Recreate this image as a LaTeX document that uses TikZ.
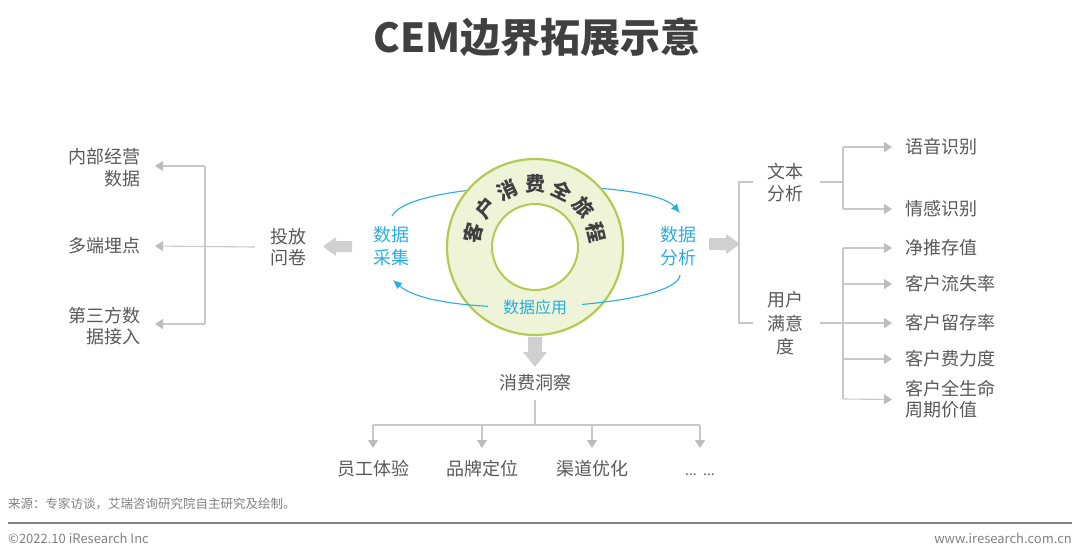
\documentclass[tikz,border=0pt]{standalone}
\usepackage{fontspec}
\setmainfont{Noto Sans CJK SC}
\usetikzlibrary{arrows.meta}
\definecolor{txt}{HTML}{595959}
\definecolor{titlec}{HTML}{404040}
\definecolor{lgray}{HTML}{C8C8C8}
\definecolor{agray}{HTML}{BDBDBD}
\definecolor{blockgray}{HTML}{D0D0D0}
\definecolor{ringfill}{HTML}{EFF3D8}
\definecolor{ringline}{HTML}{B0CB50}
\definecolor{cyanc}{HTML}{2AAEE0}
\definecolor{ftgray}{HTML}{808080}
\begin{document}
\begin{tikzpicture}[x=1pt,y=-1pt,
  lbl/.style={font=\fontsize{18}{21.5}\selectfont, text=txt, inner sep=0pt, align=center},
  rlbl/.style={lbl, anchor=west, align=left},
  cyl/.style={font=\fontsize{18}{23}\selectfont, text=cyanc, inner sep=0pt, align=center},
  glink/.style={draw=lgray, line width=1.1pt},
  garrow/.style={glink, -{Triangle[length=8pt,width=10pt,color=agray]}},
  carrow/.style={draw=cyanc, line width=1.1pt, -{Latex[length=9pt,width=8pt]}},
  block/.style={fill=blockgray, draw=none},
  ft/.style={text=ftgray, inner sep=0pt}
]
\useasboundingbox (0,0) rectangle (1080,558);

% title
\node[font=\fontsize{40}{48}\selectfont\bfseries, text=titlec, inner sep=0pt] (title) at (537,37) {CEM边界拓展示意};

% top cyan arc (behind ring)
\coordinate (ct1) at (392,216);
\coordinate (ct2) at (680,213);
\draw[carrow] (ct1) .. controls (412,178) and (650,178) .. (ct2);

% ring
\node[circle, minimum size=176pt, fill=ringfill, draw=ringline, line width=2.2pt, inner sep=0pt] (ring) at (535,247) {};
\node[circle, minimum size=86pt, fill=white, draw=ringline, line width=2pt, inner sep=0pt] (hole) at (535,247) {};

% ring text
\foreach \ch/\a [count=\i] in {客/167,户/141.3,消/115.7,费/90,全/64.3,旅/38.7,程/13}{
  \node[rotate=\a-90, font=\fontsize{20}{20}\selectfont\bfseries, text=titlec, inner sep=0pt] (rt\i) at ({535+63*cos(\a)},{247-63*sin(\a)}) {\ch};
}

% bottom cyan arc (over ring)
\coordinate (cb1) at (680,275);
\coordinate (cb2) at (393,280);
\draw[carrow] (cb1) .. controls (678,308) and (440,322) .. (cb2);

% cyan labels
\node[font=\fontsize{16}{18}\selectfont, text=cyanc, fill=ringfill, inner xsep=15pt, inner ysep=3pt] (yy) at (535,307) {数据应用};
\node[cyl] (dc) at (391,246.5) {数据\\采集};
\node[cyl] (da) at (678,246.5) {数据\\分析};

% block arrows
\fill[block] (323,246.5) -- (336,237) -- (336,241) -- (352,241) -- (352,252) -- (336,252) -- (336,256) -- cycle;
\fill[block] (740,244) -- (726,234) -- (726,238) -- (709,238) -- (709,250) -- (726,250) -- (726,254) -- cycle;
\fill[block] (535,367) -- (523,352) -- (528,352) -- (528,337) -- (542,337) -- (542,352) -- (547,352) -- cycle;

% left tree
\node[lbl] (tf) at (288,247) {投放\\问卷};
\node[lbl, anchor=east, align=right] (l1) at (141,167.5) {内部经营\\数据};
\node[lbl, anchor=east] (l2) at (141,246) {多端埋点};
\node[lbl, anchor=east, align=right] (l3) at (141,326) {第三方数\\据接入};
\coordinate (jlt) at (205,166);
\coordinate (jlb) at (205,324);
\coordinate (al1) at (155,166);
\coordinate (al2) at (155,246);
\coordinate (al3) at (155,324);
\draw[glink] (jlt) -- (jlb);
\draw[garrow] ([xshift=-15pt]tf.west) -- (al2);
\draw[garrow] (jlt) -- (al1);
\draw[garrow] (jlb) -- (al3);

% right tree
\node[lbl] (wb) at (785,182.5) {文本\\分析};
\node[lbl, font=\fontsize{18}{23.5}\selectfont] (my) at (785,323.5) {用户\\满意\\度};
\coordinate (b1) at (753,182);
\coordinate (b2) at (739,182);
\coordinate (b3) at (739,323);
\coordinate (b4) at (753,323);
\draw[glink] (b1) -- (b2) -- (b3) -- (b4);

\coordinate (jw) at (843,182);
\coordinate (jwt) at (843,147);
\coordinate (jwb) at (843,209);
\draw[glink] (820,182) -- (jw);
\draw[glink] (jwt) -- (jwb);
\node[rlbl] (r1) at (905,147) {语音识别};
\node[rlbl] (r2) at (905,209) {情感识别};
\draw[garrow] (jwt) -- ([xshift=-13pt]r1.west);
\draw[garrow] (jwb) -- ([xshift=-13pt]r2.west);

\coordinate (jm) at (843,323);
\coordinate (jmt) at (843,248);
\coordinate (jmb) at (843,399);
\draw[glink] (820,323) -- (jm);
\draw[glink] (jmt) -- (jmb);
\node[rlbl] (r3) at (905,248) {净推存值};
\node[rlbl] (r4) at (905,284) {客户流失率};
\node[rlbl] (r5) at (905,323) {客户留存率};
\node[rlbl] (r6) at (905,359) {客户费力度};
\node[rlbl, font=\fontsize{18}{21}\selectfont] (r7) at (905,399.5) {客户全生命\\周期价值};
\draw[garrow] (jmt) -- ([xshift=-13pt]r3.west);
\draw[garrow] (843,284) -- ([xshift=-13pt]r4.west);
\draw[garrow] (jm) -- ([xshift=-13pt]r5.west);
\draw[garrow] (843,359) -- ([xshift=-13pt]r6.west);
\draw[garrow] (jmb) -- ([xshift=-13pt]r7.west);

% bottom tree
\node[lbl] (xf) at (535,383) {消费洞察};
\coordinate (jx) at (535,425);
\draw[glink] (535,400) -- (jx);
\coordinate (h1) at (373,425);
\coordinate (h4) at (700,425);
\draw[glink] (h1) -- (h4);
\node[lbl] (d1) at (373,469) {员工体验};
\node[lbl] (d2) at (482,469) {品牌定位};
\node[lbl] (d3) at (592,469) {渠道优化};
\node[text=txt, inner sep=0pt, font=\fontsize{14}{16}\selectfont, anchor=base] (d4) at (700,475) {...\ \ ...};
\draw[garrow] (h1) -- (373,448);
\draw[garrow] (482,425) -- (482,448);
\draw[garrow] (592,425) -- (592,448);
\draw[garrow] (h4) -- (700,448);

% footer
\node[ft, anchor=west, font=\fontsize{12.5}{14}\selectfont] (src) at (8,504) {来源：专家访谈，艾瑞咨询研究院自主研究及绘制。};
\coordinate (fl1) at (8,523);
\coordinate (fl2) at (1072,523);
\draw[draw=ftgray, line width=1.5pt] (fl1) -- (fl2);
\node[ft, anchor=west, font=\fontsize{13}{15}\selectfont] (cp) at (8,538) {©2022.10 iResearch Inc};
\node[ft, anchor=east, font=\fontsize{13}{15}\selectfont] (url) at (1072,538) {www.iresearch.com.cn};
\end{tikzpicture}
\end{document}
